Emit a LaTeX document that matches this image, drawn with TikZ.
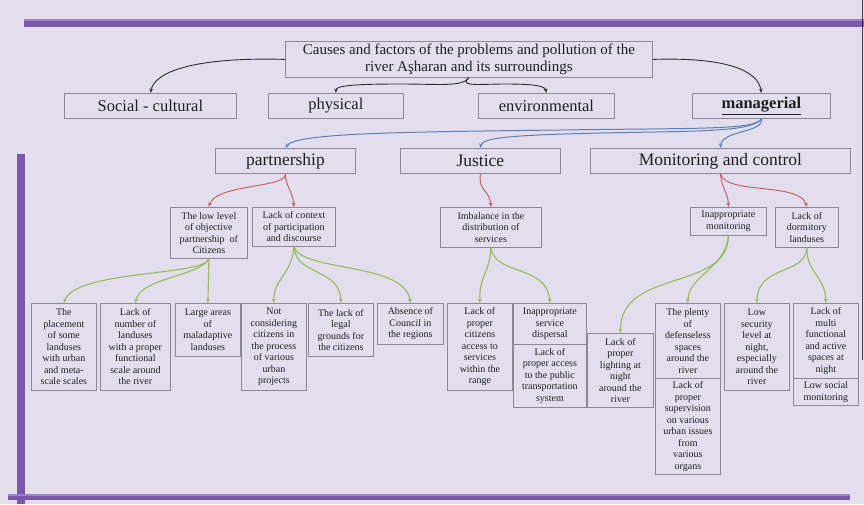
\documentclass[tikz,border=0pt]{standalone}
\usepackage{fontspec}
\setmainfont{Liberation Serif}
\usetikzlibrary{arrows.meta}

\definecolor{bg}{RGB}{227,222,238}
\definecolor{bar}{RGB}{124,88,170}
\definecolor{barlight}{RGB}{160,130,200}
\definecolor{boxline}{RGB}{140,136,152}
\definecolor{txt}{RGB}{32,32,32}
\definecolor{linkblue}{RGB}{90,128,184}
\definecolor{linkred}{RGB}{198,86,92}
\definecolor{linkgreen}{RGB}{150,186,88}
\definecolor{linkblack}{RGB}{45,45,45}

\tikzset{
  box/.style={draw=boxline, line width=0.8pt, inner sep=1pt, align=center,
              anchor=north west, text=txt},
  cell/.style 2 args={minimum width=#1pt, minimum height=#2pt},
  titlebox/.style={box, font=\fontsize{15}{16.5}\selectfont},
  mainbox/.style={box, font=\fontsize{16.5}{19}\selectfont},
  subbox/.style={box, font=\fontsize{17.5}{20}\selectfont},
  small/.style={box, font=\fontsize{10}{11.5}\selectfont},
  tip/.style={-{Stealth[length=4.5pt,width=3.6pt]}},
  blk/.style={tip, draw=linkblack, line width=0.9pt},
  blu/.style={tip, draw=linkblue, line width=1pt},
  rd/.style={tip, draw=linkred, line width=0.9pt},
  grn/.style={tip, draw=linkgreen, line width=1.1pt},
}

\begin{document}
\begin{tikzpicture}[x=1pt, y=-1pt]
  % page and frame bars
  \fill[bg] (0,0) rectangle (864,504);
  \useasboundingbox (0,0) rectangle (864,504);
  \fill[bar] (24,19) rectangle (864,27);
  \fill[barlight] (24,19) rectangle (864,20.5);
  \fill[bar] (17,154) rectangle (25,504);
  \fill[bar] (8,494) rectangle (850,500);
  \fill[barlight] (8,494) rectangle (850,495.5);
  \draw[bar!60!black, line width=1pt] (862.5,0) -- (862.5,360);

  % root
  \node[titlebox, cell={367}{36}] (title) at (285,41)
    {Causes and factors of the problems and pollution of the\\river Aşharan and its surroundings};

  % first level
  \node[mainbox, cell={172}{25}] (social) at (64,93) {Social - cultural};
  \node[mainbox, cell={135}{25}] (physical) at (268,93) {physical};
  \node[mainbox, cell={136}{25}] (environmental) at (478,93) {environmental};
  \node[mainbox, cell={138}{25}] (managerial) at (692,93) {\underline{\textbf{managerial}}};

  % second level
  \node[subbox, cell={140}{25}] (partnership) at (215,148) {partnership};
  \node[subbox, cell={160}{25}] (justice) at (400,148) {Justice};
  \node[subbox, cell={260}{25}] (monitoring) at (590,148) {Monitoring and control};

  % third level
  \node[small, cell={77}{51}] (lowlevel) at (170,207) {The low level\\of objective\\partnership~ of\\Citizens};
  \node[small, cell={83}{39}] (context) at (252,207) {Lack of context\\of participation\\and discourse};
  \node[small, cell={101}{40}] (imbalance) at (440,207) {Imbalance in the\\distribution of\\services};
  \node[small, cell={76}{28}] (inmon) at (690,207) {Inappropriate\\monitoring};
  \node[small, cell={63}{40}] (dormitory) at (775,207) {Lack of\\dormitory\\landuses};

  % fourth level
  \node[small, cell={65}{87}] (placement) at (31,303) {The\\placement\\of some\\landuses\\with urban\\and meta-\\scale scales};
  \node[small, cell={70}{87}] (lacknum) at (100,303) {Lack of\\number of\\landuses\\with a proper\\functional\\scale around\\the river};
  \node[small, cell={65}{53}] (large) at (175,303) {Large areas\\of\\maladaptive\\landuses};
  \node[small, cell={65}{87}] (notcons) at (241,303) {Not\\considering\\citizens in\\the process\\of various\\urban\\projects};
  \node[small, cell={65}{53}] (legal) at (308,303) {The lack of\\legal\\grounds for\\the citizens};
  \node[small, cell={66}{41}] (absence) at (377,303) {Absence of\\Council in\\the regions};
  \node[small, cell={65}{87}] (access) at (447,303) {Lack of\\proper\\citizens\\access to\\services\\within the\\range};
  \node[small, cell={73}{41}] (dispersal) at (513,303) {Inappropriate\\service\\dispersal};
  \node[small, cell={73}{63}] (transport) at (513,344) {Lack of\\proper access\\to the public\\transportation\\system};
  \node[small, cell={66}{74}] (lighting) at (587,333) {Lack of\\proper\\lighting at\\night\\around the\\river};
  \node[small, cell={65}{75}] (plenty) at (655,303) {The plenty\\of\\defenseless\\spaces\\around the\\river};
  \node[small, cell={65}{96}] (supervision) at (655,378) {Lack of\\proper\\supervision\\on various\\urban issues\\from\\various\\organs};
  \node[small, cell={65}{87}] (security) at (724,303) {Low\\security\\level at\\night,\\especially\\around the\\river};
  \node[small, cell={65}{75}] (multi) at (793,303) {Lack of\\multi\\functional\\and active\\spaces at\\night};
  \node[small, cell={65}{27}] (lowsocial) at (793,378) {Low social\\monitoring};

  % root to first level
  \draw[blk] (title.west) .. controls (200,57) and (155,70) .. (social.north);
  \draw[blk] (title.east) .. controls (725,57) and (758,70) .. (managerial.north);
  \draw[blk] (title.south) .. controls (462,87) and (440,84) .. (400,84)
                           .. controls (350,84) and (336,86) .. (physical.north);
  \draw[blk] (title.south) .. controls (458,87) and (480,84) .. (505,84)
                           .. controls (535,84) and (545,86) .. (environmental.north);

  % managerial to second level
  \draw[blu] (managerial.south) .. controls (755,130) and (700,128) .. (560,130)
                                .. controls (400,132) and (295,133) .. (partnership.north);
  \draw[blu] (managerial.south) .. controls (752,132) and (700,131) .. (600,133)
                                .. controls (520,135) and (482,137) .. (justice.north);
  \draw[blu] (managerial.south) .. controls (764,133) and (722,130) .. (monitoring.north);

  % second to third level
  \draw[rd] (partnership.south) .. controls (288,188) and (215,184) .. (lowlevel.north);
  \draw[rd] (partnership.south) .. controls (285,185) and (293,192) .. (context.north);
  \draw[rd] (justice.south) .. controls (478,192) and (490,190) .. (imbalance.north);
  \draw[rd] (monitoring.south) .. controls (722,190) and (728,192) .. (inmon.north);
  \draw[rd] (monitoring.south) .. controls (726,195) and (800,182) .. (dormitory.north);

  % third to fourth level
  \draw[grn] (lowlevel.south) .. controls (205,276) and (75,270) .. (placement.north);
  \draw[grn] (lowlevel.south) .. controls (200,276) and (140,278) .. (lacknum.north);
  \draw[grn] (lowlevel.south) -- (large.north);
  \draw[grn] (context.south) .. controls (293,272) and (273,280) .. (notcons.north);
  \draw[grn] (context.south) .. controls (296,276) and (340,268) .. (legal.north);
  \draw[grn] (context.south) .. controls (302,272) and (405,262) .. (absence.north);
  \draw[grn] (imbalance.south) .. controls (490,272) and (479,276) .. (access.north);
  \draw[grn] (imbalance.south) .. controls (495,276) and (547,264) .. (dispersal.north);
  \draw[grn] (inmon.south) .. controls (728,292) and (620,268) .. (lighting.north);
  \draw[grn] (inmon.south) .. controls (726,268) and (688,276) .. (plenty.north);
  \draw[grn] (dormitory.south) .. controls (805,276) and (758,264) .. (security.north);
  \draw[grn] (dormitory.south) .. controls (806,272) and (825,276) .. (multi.north);
\end{tikzpicture}
\end{document}
